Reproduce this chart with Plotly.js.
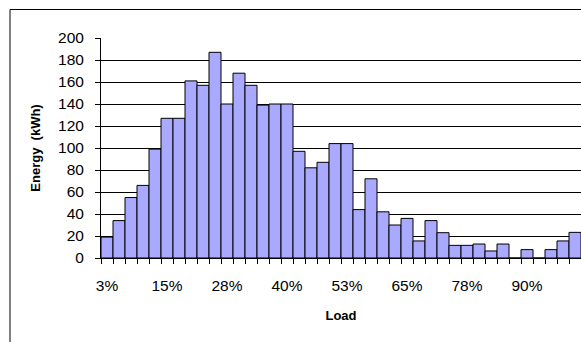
<!DOCTYPE html>
<html>
<head>
<meta charset="utf-8">
<script src="https://cdn.plot.ly/plotly-3.0.1.min.js"></script>
<style>
  html, body { margin: 0; padding: 0; background: #fff; overflow: hidden; }
  #chart { width: 581px; height: 342px; }
</style>
</head>
<body>
<div id="chart"></div>
<script>
// Load categories (bin labels)
var loadCategories = ['3%','5%','8%','10%','13%','15%','18%','20%','23%','25%',
                      '28%','30%','33%','35%','38%','40%','43%','45%','48%','50%',
                      '53%','55%','58%','60%','63%','65%','68%','70%','73%','75%',
                      '78%','80%','83%','85%','88%','90%','93%','95%','98%','100%'];
// Energy per bin (kWh)
var energyValues = [19, 34, 55, 66, 99, 127, 127, 161, 157, 187,
                    140, 168, 157, 139, 140, 140, 97, 82, 87, 104,
                    104, 44, 72, 42, 30, 36, 15.5, 34, 23, 11.5,
                    11.5, 12.7, 6.4, 12.7, 0, 7.6, 0, 7.6, 15.5, 23.3];
// Tick labels that are shown on the x axis
var shownTickLabels = ['3%','15%','28%','40%','53%','65%','78%','90%'];

var tickText = loadCategories.map(function (c) {
  return shownTickLabels.indexOf(c) >= 0 ? c : '';
});

var FONT = 'Liberation Sans, Arial, sans-serif';

var trace = {
  type: 'bar',
  x: loadCategories,
  y: energyValues,
  marker: { color: '#A9A9FF', line: { color: '#000000', width: 1 } },
  hoverinfo: 'x+y'
};

var W = 581, H = 342, L = 101, R = 0, T = 38, B = 84;
var pw = W - L - R, ph = H - T - B;
function px2paperX(px) { return (px - L) / pw; }
function px2paperY(py) { return (H - B - py) / ph; }

var layout = {
  width: W,
  height: H,
  margin: { l: L, r: R, t: T, b: B, pad: 0 },
  paper_bgcolor: '#ffffff',
  plot_bgcolor: '#ffffff',
  bargap: 0,
  showlegend: false,
  font: { family: FONT, size: 15.5, color: '#000000' },
  xaxis: {
    type: 'category',
    range: [-0.5, 39.5],
    tickvals: loadCategories,
    ticktext: tickText,
    tickangle: 0,
    tickson: 'boundaries',
    ticks: 'outside',
    ticklen: 5,
    tickwidth: 1,
    tickcolor: '#000000',
    showline: true,
    linecolor: '#000000',
    linewidth: 1,
    showgrid: false,
    zeroline: false,
    ticklabelstandoff: 13,
    tickfont: { family: FONT, size: 15.5, color: '#000000' },
    title: { text: 'Load', font: { family: FONT, size: 13, color: '#000000', weight: 'bold' }, standoff: 18 }
  },
  yaxis: {
    range: [0, 200],
    dtick: 20,
    tick0: 0,
    ticks: 'outside',
    ticklen: 5,
    tickwidth: 1,
    tickcolor: '#000000',
    showline: true,
    linecolor: '#000000',
    linewidth: 1,
    showgrid: true,
    gridcolor: '#000000',
    gridwidth: 1,
    zeroline: false,
    ticklabelstandoff: 8,
    tickfont: { family: FONT, size: 15.5, color: '#000000' },
    title: { text: 'Energy  (kWh)', font: { family: FONT, size: 13, color: '#000000', weight: 'bold' }, standoff: 14 }
  },
  shapes: [{
    type: 'rect',
    xref: 'paper', yref: 'paper',
    x0: px2paperX(10), x1: px2paperX(600),
    y0: px2paperY(360), y1: px2paperY(9.5),
    line: { color: '#000000', width: 1 },
    fillcolor: 'rgba(0,0,0,0)'
  }]
};

Plotly.newPlot('chart', [trace], layout, { staticPlot: true, displayModeBar: false });
</script>
</body>
</html>
